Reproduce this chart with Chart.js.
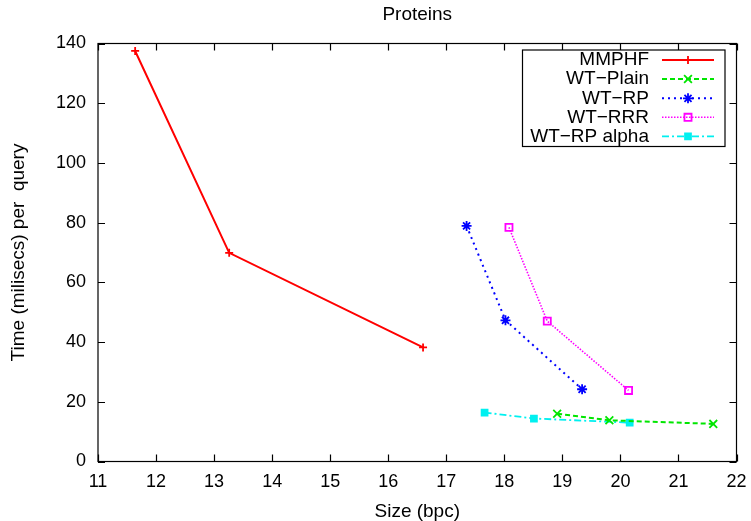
<!DOCTYPE html>
<html>
<head>
<meta charset="utf-8">
<script src="https://cdn.jsdelivr.net/npm/chart.js@4.4.0/dist/chart.umd.min.js"></script>
<style>
    html, body { margin: 0; padding: 0; background: #fff; }
    #wrap { width: 751px; height: 521px; }
</style>
</head>
<body>
<div id="wrap"><canvas id="chart" width="751" height="521"></canvas></div>
<script>
const chartTitle = 'Proteins';
const xTitle = 'Size (bpc)';
const yTitle = 'Time (milisecs) per  query';
const xTicks = [11, 12, 13, 14, 15, 16, 17, 18, 19, 20, 21, 22];
const yTicks = [0, 20, 40, 60, 80, 100, 120, 140];

const seriesNames = ['MMPHF', 'WT\u2212Plain', 'WT\u2212RP', 'WT\u2212RRR', 'WT\u2212RP alpha'];
const mmphfSize = [11.64, 13.26, 16.6];
const mmphfTime = [137.5, 69.9, 38.2];
const plainSize = [18.91, 19.81, 21.60];
const plainTime = [16.0, 13.8, 12.6];
const rpSize = [17.35, 18.02, 19.34];
const rpTime = [78.9, 47.3, 24.2];
const rrrSize = [18.08, 18.74, 20.14];
const rrrTime = [78.4, 47.0, 23.8];
const alphaSize = [17.66, 18.51, 20.16];
const alphaTime = [16.4, 14.4, 13.0];

const FONT = "'Liberation Sans', Arial, sans-serif";

function toPoints(xs, ys) {
    return xs.map((x, i) => ({ x: x, y: ys[i] }));
}

function makeSeries(name, xs, ys, color, dash, style, radius, filled, width) {
    return {
        label: name,
        data: toPoints(xs, ys),
        borderColor: color,
        backgroundColor: filled ? color : 'rgba(0,0,0,0)',
        borderWidth: width,
        borderDash: dash,
        pointStyle: style,
        pointRadius: radius,
        pointBorderWidth: 1.8,
        pointBorderColor: color,
        pointBackgroundColor: filled ? color : 'rgba(0,0,0,0)',
        showLine: true,
        tension: 0
    };
}

const datasets = [
    makeSeries(seriesNames[0], mmphfSize, mmphfTime, '#ff0000', [], 'cross', 4, false, 2),
    makeSeries(seriesNames[1], plainSize, plainTime, '#00e600', [5, 3], 'crossRot', 5.5, false, 2),
    makeSeries(seriesNames[2], rpSize, rpTime, '#0000ff', [2, 4], 'star', 5, false, 2),
    makeSeries(seriesNames[3], rrrSize, rrrTime, '#ff00ff', [1.5, 1.5], 'rect', 5, false, 1.6),
    makeSeries(seriesNames[4], alphaSize, alphaTime, '#00f0f0', [7, 3, 2, 3], 'rect', 4.2, true, 1.8)
];

// inward ticks on all four sides plus the box border
const frameTicks = {
    id: 'frameTicks',
    beforeDatasetsDraw(chart) {
        const { ctx, chartArea: a, scales } = chart;
        const len = 7;
        ctx.save();
        ctx.strokeStyle = '#000';
        ctx.lineWidth = 1.2;
        ctx.beginPath();
        xTicks.forEach(v => {
            const px = Math.round(scales.x.getPixelForValue(v)) + 0.5;
            ctx.moveTo(px, a.bottom); ctx.lineTo(px, a.bottom - len);
            ctx.moveTo(px, a.top); ctx.lineTo(px, a.top + len);
        });
        yTicks.forEach(v => {
            const py = Math.round(scales.y.getPixelForValue(v)) + 0.5;
            ctx.moveTo(a.left, py); ctx.lineTo(a.left + len, py);
            ctx.moveTo(a.right, py); ctx.lineTo(a.right - len, py);
        });
        ctx.stroke();
        ctx.strokeRect(a.left, a.top, a.right - a.left, a.bottom - a.top);
        ctx.restore();
    }
};

// gnuplot-style key: text right aligned, sample on the right
const keyBox = {
    id: 'keyBox',
    afterDatasetsDraw(chart) {
        const { ctx } = chart;
        const box = { left: 522.5, top: 50, right: 725, bottom: 146.5 };
        const rowY = [60, 79, 98.3, 117.3, 136.3];
        ctx.save();
        ctx.fillStyle = '#fff';
        ctx.fillRect(box.left, box.top, box.right - box.left, box.bottom - box.top);
        ctx.strokeStyle = '#000';
        ctx.lineWidth = 1.2;
        ctx.strokeRect(box.left, box.top, box.right - box.left, box.bottom - box.top);
        ctx.font = '19px ' + FONT;
        ctx.textAlign = 'right';
        ctx.textBaseline = 'middle';
        chart.data.datasets.forEach((ds, i) => {
            const y = rowY[i];
            ctx.fillStyle = '#000';
            ctx.fillText(ds.label, 649, y);
            ctx.strokeStyle = ds.borderColor;
            ctx.lineWidth = ds.borderWidth;
            ctx.setLineDash(ds.borderDash);
            ctx.beginPath();
            ctx.moveTo(662, y);
            ctx.lineTo(714, y);
            ctx.stroke();
            ctx.setLineDash([]);
            ctx.fillStyle = ds.pointBackgroundColor;
            ctx.lineWidth = ds.pointBorderWidth;
            Chart.helpers.drawPoint(ctx, {
                pointStyle: ds.pointStyle,
                radius: ds.pointRadius,
                borderWidth: ds.pointBorderWidth,
                rotation: 0
            }, 688, y);
        });
        ctx.restore();
    }
};

new Chart(document.getElementById('chart').getContext('2d'), {
    type: 'scatter',
    data: { datasets: datasets },
    options: {
        responsive: false,
        animation: false,
        devicePixelRatio: 1,
        layout: { padding: { left: 0, right: 14.5, top: 0, bottom: 0 } },
        plugins: {
            legend: { display: false },
            tooltip: { enabled: false },
            title: {
                display: true,
                fullSize: false,
                text: chartTitle,
                color: '#000',
                font: { family: FONT, size: 19, weight: 'normal', lineHeight: 1.2 },
                padding: { top: 3.6, bottom: 17.1 }
            }
        },
        scales: {
            x: {
                type: 'linear',
                min: 11,
                max: 22,
                afterBuildTicks: s => { s.ticks = xTicks.map(v => ({ value: v })); },
                afterFit: s => { s.height = 59.5; s.paddingLeft = 0; s.paddingRight = 0; },
                grid: { display: false, drawTicks: false },
                border: { display: false },
                ticks: { color: '#000', padding: 10, font: { family: FONT, size: 18 } },
                title: {
                    display: true,
                    text: xTitle,
                    color: '#000',
                    font: { family: FONT, size: 19, lineHeight: 1.0 },
                    padding: { top: 0, bottom: 0 }
                }
            },
            y: {
                type: 'linear',
                min: 0,
                max: 140,
                afterBuildTicks: s => { s.ticks = yTicks.map(v => ({ value: v })); },
                afterFit: s => { s.width = 98; s.paddingTop = 0; s.paddingBottom = 0; },
                grid: { display: false, drawTicks: false },
                border: { display: false },
                ticks: { color: '#000', padding: 12, font: { family: FONT, size: 18 } },
                title: {
                    display: true,
                    text: yTitle,
                    color: '#000',
                    font: { family: FONT, size: 19, lineHeight: 1.0 },
                    padding: { top: 9.5, bottom: 0 }
                }
            }
        }
    },
    plugins: [frameTicks, keyBox]
});
</script>
</body>
</html>
